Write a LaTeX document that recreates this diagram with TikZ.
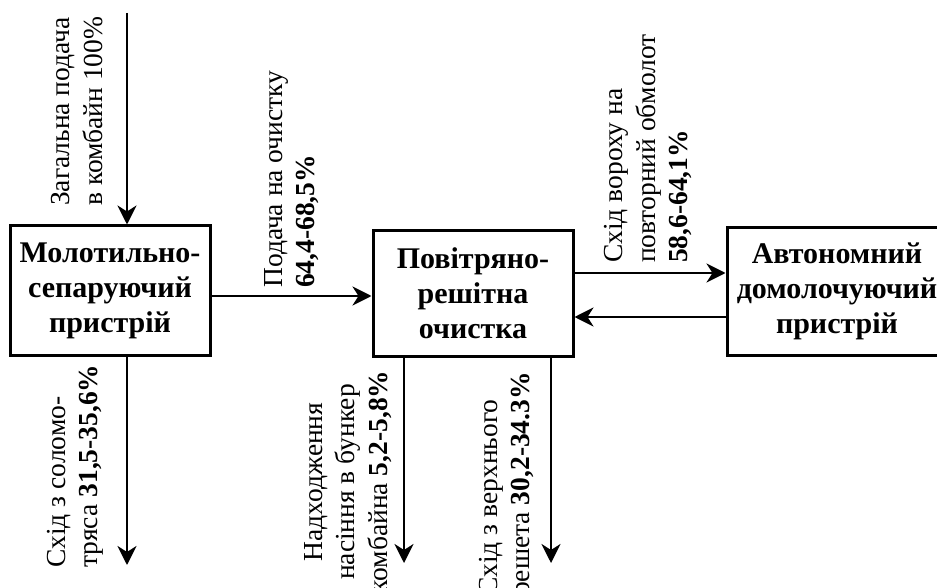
\documentclass[tikz,border=0pt]{standalone}
\usepackage{fontspec}
\setmainfont{Liberation Serif}
\usetikzlibrary{arrows.meta}
\tikzset{
  blk/.style={draw, line width=3pt, inner sep=0pt, align=center,
    font=\bfseries\fontsize{30}{35}\selectfont},
  arr/.style={line width=2.5pt, -{Stealth[length=19pt, width=19pt, inset=6pt]}},
  lbl/.style={rotate=90, inner sep=0pt, align=left,
    font=\fontsize{27.5}{32.5}\selectfont},
  lblc/.style={lbl, align=center}
}
\begin{document}
\begin{tikzpicture}[x=1pt, y=-1pt]
\useasboundingbox (0,0) rectangle (937,588);
\clip (0,0) rectangle (937,588);
\node[blk, minimum width=200pt, minimum height=129pt] (b1) at (110,290.5)
  {Молотильно-\\сепаруючий\\пристрій};
\node[blk, minimum width=200pt, minimum height=125pt] (b2) at (473,293.5)
  {Повітряно-\\решітна\\очистка};
\node[blk, minimum width=220pt, minimum height=127pt] (b3) at (837,291.5)
  {Автономний\\домолочуючий\\пристрій};
% helper coordinates
\coordinate (in) at (127,13);
\coordinate (out1) at (127,565);
\coordinate (h1) at (0,296);
\coordinate (h2) at (0,273);
\coordinate (h3) at (0,317);
\coordinate (out2) at (404,563);
\coordinate (out3) at (551,563);
% connectors
\draw[arr] (in) -- (in |- b1.north);
\draw[arr] (out1 |- b1.south) -- (out1);
\draw[arr] (b1.east |- h1) -- (b2.west |- h1);
\draw[arr] (b2.east |- h2) -- (b3.west |- h2);
\draw[arr] (b3.west |- h3) -- (b2.east |- h3);
\draw[arr] (out2 |- b2.south) -- (out2);
\draw[arr] (out3 |- b2.south) -- (out3);
% labels
\node[lbl, anchor=south west] (l1) at (103,206)
  {Загальна подача\\в комбайн 100\%};
\node[lbl, anchor=south west] (l2) at (319,288)
  {Подача на очистку\\\textbf{64,4-68,5\%}};
\node[lbl, anchor=south west] (l3) at (692,263)
  {Схід вороху на\\повторний обмолот\\\textbf{58,6-64,1\%}};
\node[lbl, anchor=south west] (l4) at (104,568)
  {Схід з соломо-\\тряса \textbf{31,5-35,6\%}};
\node[lblc, anchor=center] (l5) at (348,482)
  {Надходження\\насіння в бункер\\комбайна \textbf{5,2-5,8\%}};
\node[lbl, anchor=south east] (l6) at (536,372)
  {Схід з верхнього\\решета \textbf{30,2-34.3\%}};
\end{tikzpicture}
\end{document}
